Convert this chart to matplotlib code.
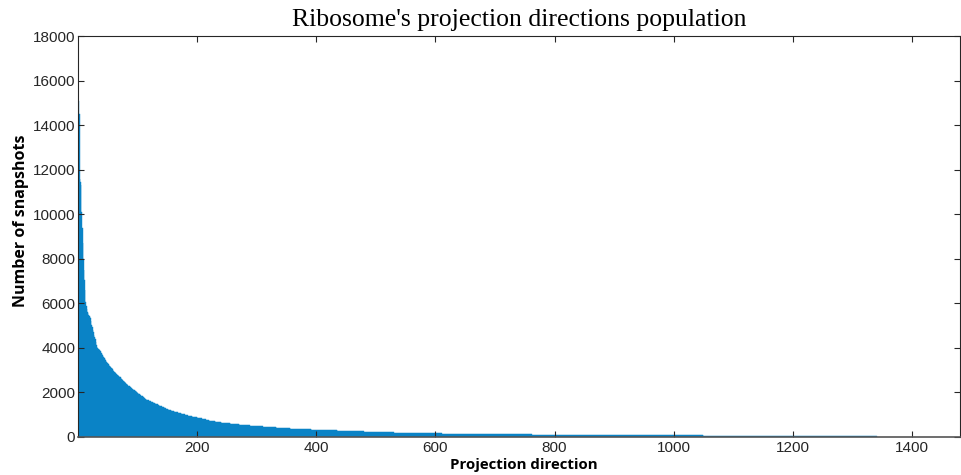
import matplotlib.pyplot as plt
import numpy as np

# snapshots per projection direction, sorted
head_counts = [
    15100, 14500, 11600, 11450, 11300, 10100, 9400, 8700, 8000, 7500,
    7050, 6600, 6050, 5900, 5750, 5620, 5560, 5500, 5450, 5400,
    5340, 5200, 5050, 4940, 4820, 4700, 4590, 4490, 4380, 4260,
    4150, 4040, 4000, 3970, 3940, 3910, 3880, 3840, 3790, 3740,
    3690, 3640, 3590, 3550, 3510, 3470, 3420, 3370, 3320, 3290,
    3260, 3230, 3200, 3170, 3140,
    3110, 3080, 3040, 3010, 2970, 2940, 2900, 2870,
    2850, 2830, 2800, 2780, 2750, 2730, 2700, 2680, 2650,
    2620, 2590, 2560, 2530, 2500, 2480, 2450, 2420, 2390, 2360, 2330,
    2310, 2290, 2270, 2250, 2230, 2210, 2190, 2170, 2150, 2130, 2110,
    2090, 2070, 2050, 2020, 2000, 1980, 1960, 1940, 1920, 1900, 1880,
    1860, 1840, 1820, 1800, 1780, 1760, 1740, 1720, 1700, 1680, 1660,
    1650, 1640, 1630, 1620, 1610, 1600, 1590, 1580, 1570, 1560, 1545, 1530,
    1515, 1500, 1490, 1475, 1460, 1450, 1440, 1425, 1410, 1400, 1390,
    1380, 1365, 1350, 1340, 1325, 1310, 1300, 1290, 1275, 1260, 1250, 1240,
    1230, 1220, 1210,
    1200, 1190, 1180, 1172, 1165, 1157, 1150, 1142, 1135, 1127, 1120, 1112,
    1105, 1097, 1090, 1083, 1077,
    1069, 1061, 1053, 1045, 1037, 1029, 1021, 1013, 1005, 997, 989, 981,
    973, 965, 957, 949, 940,
    935, 930, 925, 920, 915, 910, 905, 900, 895, 890, 885, 880, 875, 870,
    865, 858, 850,
    843, 836, 829, 822, 815, 808, 801, 794, 787, 780, 773, 766, 759, 752,
    745, 738, 730,
    726, 722, 718, 713, 709, 705, 700, 696, 692, 687, 683, 679, 674, 670,
    665, 660,
    657, 654, 651, 648, 645, 642, 639, 636, 633, 630, 627, 624, 621, 618,
    615, 612, 609, 606, 603, 600, 597, 594, 591, 588, 585, 582, 579, 576,
    573, 570, 566, 562, 556, 550,
    548, 546, 544, 542, 540, 538, 536, 534, 532, 530, 528, 526, 524, 522,
    520, 518, 516, 514, 512, 510, 508, 506, 504, 502, 500, 498, 496, 494,
    492, 490, 488, 486, 484, 482,
    478, 476, 474, 472, 470, 468, 466, 464, 462, 460, 458, 456, 454, 452,
    450, 448, 446, 444, 442, 440, 438, 436, 434, 432, 430, 428, 426, 424,
    422, 420, 419, 418, 417,
    415, 413, 411, 409, 407, 405, 403, 401, 399, 397, 395, 393, 391, 389,
    387, 385, 383, 381, 379, 377, 375, 373, 371, 369, 367, 365, 363, 361,
    360, 359, 358, 357, 356, 355,
    354, 353, 352, 351, 350, 349, 348, 347, 346, 345, 344, 343, 342, 341,
    340, 339, 338, 337, 336, 335, 334, 333, 332, 331, 330, 329, 328, 327,
    326, 325, 324, 323, 322,
    320, 319, 318, 317, 316, 315, 314, 313, 312, 311, 310, 309, 308, 307,
    306, 305, 304, 303, 302, 301, 300, 299, 298, 297, 296, 295, 294, 293,
    292, 291, 290, 289, 288, 287,
    285, 284, 283, 282, 281, 280, 279, 278, 277, 276, 275, 274, 273, 272,
    271, 270, 269, 268, 267, 266, 265, 264, 263, 262, 261, 260, 259, 258,
    257, 256, 255, 254, 253, 252, 251, 250, 249, 248, 247, 246, 245, 244,
    243, 242, 241, 240, 239, 238, 237, 236, 235, 234, 233, 232, 231, 230,
    229, 228, 227,
]

# low counts repeat: each count value and how many directions have it
tail_values = [
    225, 224, 223, 222, 221, 220, 219, 218, 217, 216, 215, 214, 213, 212,
    211, 210, 209, 208, 207, 206, 205, 204, 203, 202, 201, 200, 199, 198,
    197, 196, 195,
    194, 193, 192, 191, 190, 189, 188, 187, 186, 185, 184, 183, 182, 181,
    180, 179, 178, 177, 176, 175, 174, 173, 172, 171, 170,
    169, 168, 167, 166, 165, 164, 163, 162, 161, 160, 159, 158, 157, 156,
    155, 154, 153, 152, 151, 150, 149, 148,
    147, 146, 145, 144, 143, 142, 141, 140, 139, 138, 137, 136, 135, 134,
    133, 132, 131, 130, 129, 128, 127, 126, 125,
    124, 123, 122, 121, 120, 119, 118, 117, 116, 115, 114, 113, 112, 111,
    110, 109, 108, 107, 106, 105, 104, 103, 102, 101, 100,
    99, 98, 97, 96, 95, 94, 93, 92, 91, 90, 89, 88, 87, 86, 85, 84, 83,
    82, 81, 80,
    79, 78, 77, 76, 75, 74, 73, 72, 71, 70, 69, 68, 67, 66, 65, 64, 63,
    62, 61, 60, 59, 58, 57, 56, 55,
    54, 53, 52, 51, 50, 49, 48, 47, 46, 45, 44, 43, 42, 41, 40, 39, 38,
    37, 36, 35, 34, 33, 32, 31, 30, 29, 28, 27, 26, 25,
]
tail_multiplicity = [
    1, 2, 1, 1, 2, 1, 1, 2, 1, 1, 2, 1, 1, 2, 1, 1, 2, 1, 1, 2, 1, 1, 2, 1,
    1, 2, 1, 1, 2, 1, 2,
    1, 2, 1, 1, 2, 1, 1, 2, 1, 1, 2, 1, 1, 2, 1, 1, 2, 1, 1, 2, 1, 1, 2, 1, 1,
    2, 3, 4, 3, 3, 2, 4, 3, 3, 3, 2, 4, 3, 3, 3, 4, 2, 3, 3, 4, 3, 3,
    3, 3, 2, 3, 4, 3, 3, 2, 3, 3, 4, 3, 3, 3, 2, 3, 3, 4, 3, 3, 2, 3, 3,
    4, 4, 4, 4, 5, 4, 4, 5, 4, 5, 5, 4, 5, 5, 5, 4, 5, 5, 5, 5, 5, 5, 5, 5, 6,
    6, 6, 7, 6, 7, 6, 7, 7, 6, 7, 7, 7, 7, 7, 7, 7, 7, 7, 7, 7,
    7, 7, 8, 7, 7, 8, 7, 7, 8, 7, 7, 8, 7, 8, 7, 8, 7, 8, 7, 8, 7, 8, 7, 7, 7,
    7, 7, 6, 7, 6, 7, 6, 7, 6, 7, 6, 7, 6, 7, 6, 7, 6, 7, 6, 7, 6, 7, 6, 7,
    6, 7, 6, 6, 6, 7,
]

counts = np.concatenate([head_counts, np.repeat(tail_values, tail_multiplicity)])
directions = np.arange(1, len(counts) + 1)

x_ticks = [200, 400, 600, 800, 1000, 1200, 1400]
y_ticks = [0, 2000, 4000, 6000, 8000, 10000, 12000, 14000, 16000, 18000]

bar_color = '#0a83c6'

fig = plt.figure(figsize=(9.61, 4.75), dpi=100)
ax = fig.add_axes([0.0812, 0.08, 0.918, 0.844])

ax.bar(directions, counts, width=1.0, color=bar_color,
       edgecolor=bar_color, linewidth=0.3)

ax.set_xlim(0, 1481)
ax.set_ylim(0, 18000)
ax.set_xticks(x_ticks)
ax.set_yticks(y_ticks)
ax.tick_params(direction='in', length=4, top=True, right=True,
               labelsize=11, colors='#262626', width=0.8, pad=3)
ax.tick_params(axis='y', pad=2)
for lab in ax.get_xticklabels() + ax.get_yticklabels():
    lab.set_family('Liberation Sans')
for s in ax.spines.values():
    s.set_color('#262626')
    s.set_linewidth(0.8)
ax.spines['bottom'].set_color('#555555')
ax.spines['bottom'].set_linewidth(1.2)

ax.set_xlabel('Projection direction', fontsize=10.8, fontweight='bold',
              family='Open Sans')
ax.xaxis.set_label_coords(0.505, -0.052)
ax.set_ylabel('Number of snapshots', fontsize=11.5, fontweight='bold',
              family='Open Sans')
ax.yaxis.set_label_coords(-0.056, 0.54)
ax.set_title("Ribosome's projection directions population", fontsize=18.5,
             family='Liberation Serif', pad=7)

fig.savefig('out.png', dpi=100)
